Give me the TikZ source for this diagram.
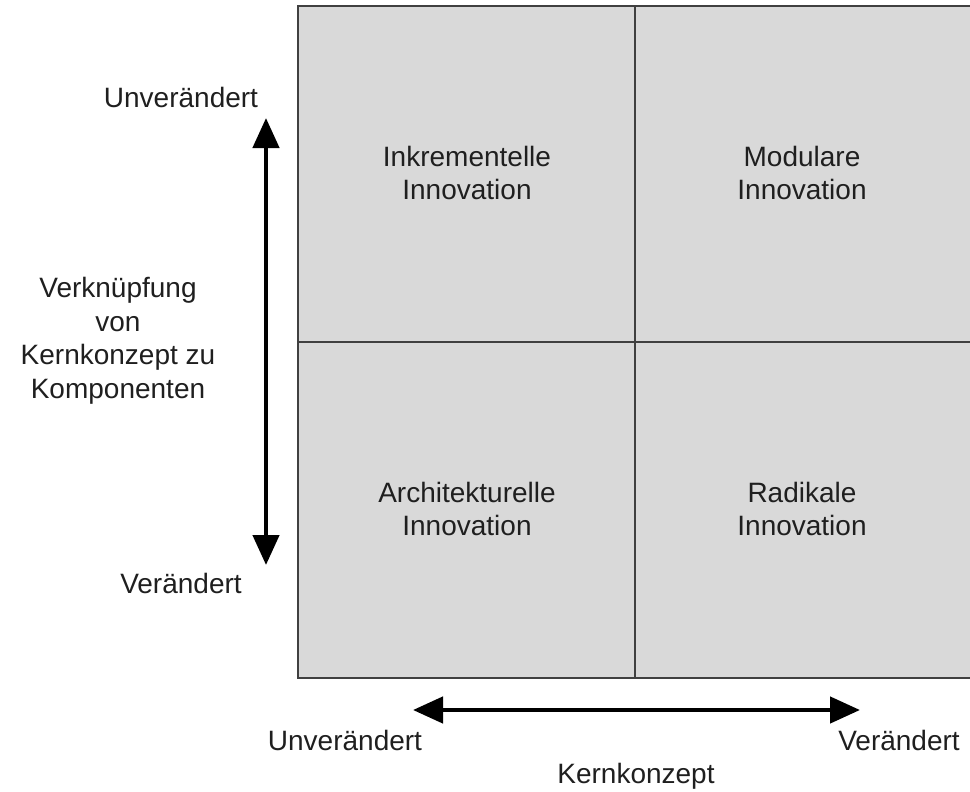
\documentclass[tikz,border=0pt]{standalone}
\usepackage{fontspec}
\setmainfont{Liberation Sans}
\usetikzlibrary{arrows.meta}
\tikzset{
  cell/.style={draw=black!75, line width=1.6pt, fill=black!15},
  lbl/.style={align=center, text=black!88, font=\fontsize{28}{33.5}\selectfont, inner sep=0pt},
  axis/.style={line width=4.5pt, {Triangle[width=26pt,length=30pt]}-{Triangle[width=26pt,length=30pt]}}
}
\begin{document}
\begin{tikzpicture}[x=1pt,y=-1pt]
  \useasboundingbox (0,0) rectangle (970,792);
  % the four fields
  \draw [cell] (298,6) rectangle (635,342);
  \draw [cell] (635,6) rectangle (972,342);
  \draw [cell] (298,342) rectangle (635,678);
  \draw [cell] (635,342) rectangle (972,678);
  \node [lbl] (ink) at (467,173) {Inkrementelle\\Innovation};
  \node [lbl] (mod) at (802,173) {Modulare\\Innovation};
  \node [lbl] (arc) at (467,509) {Architekturelle\\Innovation};
  \node [lbl] (rad) at (802,509) {Radikale\\Innovation};
  % vertical axis
  \node [lbl] (vu) at (181,97) {Unverändert};
  \node [lbl] (vv) at (181,583) {Verändert};
  \node [lbl] (vk) at (118,341) {Verknüpfung\\von\\Kernkonzept zu\\Komponenten};
  \coordinate (vtop) at (266,118);
  \coordinate (vbot) at (266,565);
  \draw [axis] (vtop) -- (vbot);
  % horizontal axis
  \node [lbl] (hu) at (345,740) {Unverändert};
  \node [lbl] (hv) at (899,740) {Verändert};
  \node [lbl] (hk) at (636,776) {Kernkonzept};
  \coordinate (hl) at (413,710);
  \coordinate (hr) at (860,710);
  \draw [axis] (hl) -- (hr);
\end{tikzpicture}
\end{document}
